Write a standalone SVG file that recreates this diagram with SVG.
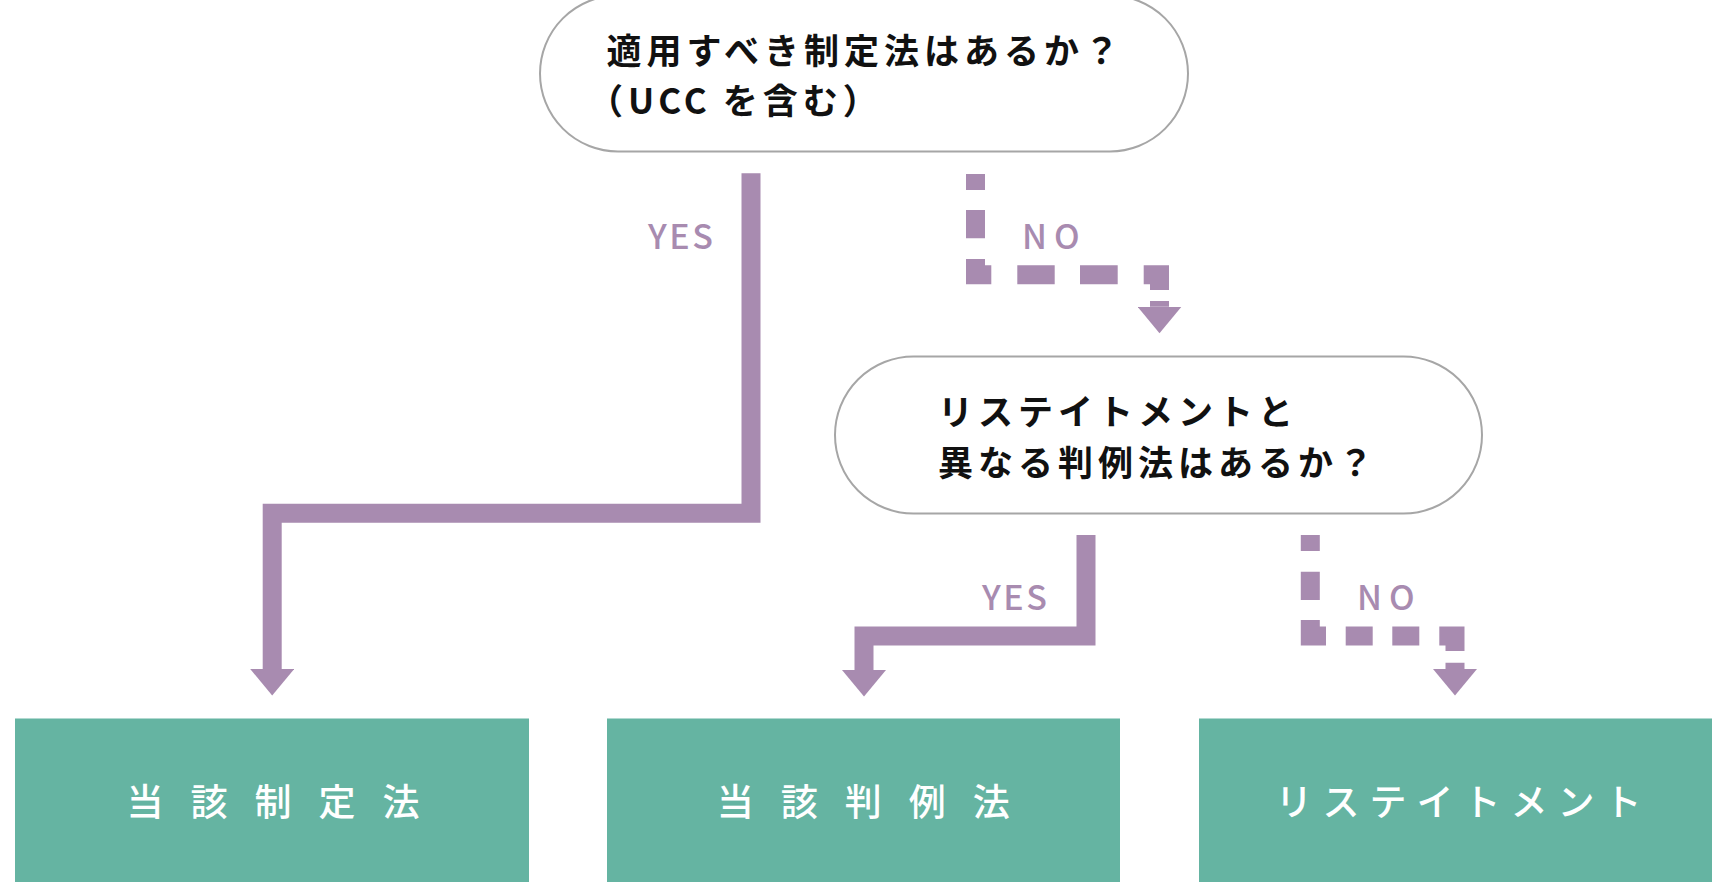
<svg xmlns="http://www.w3.org/2000/svg" width="1728" height="882" viewBox="0 0 1728 882">
<style>
.q{fill:#ffffff;stroke:#a6a6a6;stroke-width:2}
.qt{font-family:"Noto Sans CJK JP","Noto Sans",sans-serif;font-size:35px;font-weight:700;fill:#111111;letter-spacing:5px}
.box{fill:#65b4a2}
.bt{font-family:"Noto Sans CJK JP","Noto Sans",sans-serif;font-size:37px;font-weight:500;fill:#ffffff}
.lbl{font-family:"Noto Sans CJK JP","Noto Sans",sans-serif;font-size:34px;font-weight:500;fill:#a88bb0}
.c{fill:none;stroke:#a88bb0;stroke-width:19;stroke-linejoin:miter;stroke-linecap:butt}
</style>
<defs>
<marker id="ah" markerUnits="userSpaceOnUse" markerWidth="27" markerHeight="44" viewBox="0 0 27 44" refX="0" refY="22" orient="auto">
<path d="M0,0 L26.5,22 L0,44 Z" fill="#a88bb0"/>
</marker>
</defs>
<g id="q1">
<rect class="q" x="540" y="-4.5" width="648" height="156" rx="78" ry="78"/>
<text class="qt" x="606.5" y="64">適用すべき制定法はあるか？</text>
<text class="qt" x="588" y="114">（<tspan letter-spacing="4">UCC </tspan>を含む）</text>
</g>
<g id="q2">
<rect class="q" x="835" y="356.5" width="647" height="157" rx="78.5" ry="78.5"/>
<text class="qt" x="938" y="424.5">リステイトメントと</text>
<text class="qt" x="938" y="475.5">異なる判例法はあるか？</text>
</g>
<g id="r1">
<rect class="box" x="15" y="718.5" width="514" height="170"/>
<text class="bt" x="126.5" y="815.5" letter-spacing="27">当該制定法</text>
</g>
<g id="r2">
<rect class="box" x="607" y="718.5" width="513" height="170"/>
<text class="bt" x="716.8" y="815.5" letter-spacing="27">当該判例法</text>
</g>
<g id="r3">
<rect class="box" x="1199" y="718.5" width="513" height="170"/>
<text class="bt" x="1275.5" y="815.5" letter-spacing="10">リステイトメント</text>
</g>
<g id="connectors">
<path class="c" d="M751,173.3 V513.3 H272.2 V669" marker-end="url(#ah)"/>
<path class="c" d="M975.5,174 V274.7 H1159.5 V306.7" stroke-dasharray="16 20 28.3 20.7 31.5 26 37.4 25.3 37.7 26 31.1 11 6 1000" marker-end="url(#ah)"/>
<path class="c" d="M1086,535 V636 H864 V670" marker-end="url(#ah)"/>
<path class="c" d="M1310.3,535 V636 H1455 V669" stroke-dasharray="16 20.7 28.3 20 31.7 19.7 27 19.6 27 20 30.7 11.7 6.3 1000" marker-end="url(#ah)"/>
<text class="lbl" x="648" y="249" letter-spacing="2.5">YES</text>
<text class="lbl" x="1022" y="249.3" letter-spacing="7">NO</text>
<text class="lbl" x="982" y="610" letter-spacing="2.5">YES</text>
<text class="lbl" x="1357" y="610" letter-spacing="7">NO</text>
</g>
</svg>
